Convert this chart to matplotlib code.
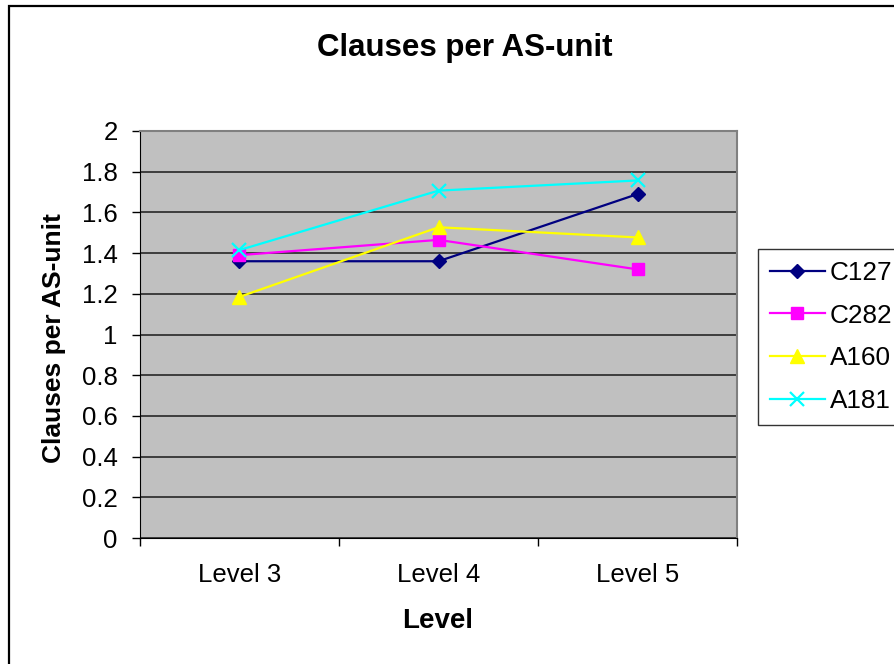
import matplotlib.pyplot as plt
from matplotlib.patches import Rectangle

# datos
niveles = ["Level 3", "Level 4", "Level 5"]
c127 = [1.36, 1.36, 1.69]
c282 = [1.39, 1.465, 1.32]
a160 = [1.185, 1.527, 1.477]
a181 = [1.415, 1.707, 1.757]

plt.rcParams["font.family"] = ["Liberation Sans", "DejaVu Sans"]

fig = plt.figure(figsize=(8.95, 6.64), dpi=100)
fig.patch.set_facecolor("white")

# marco exterior del grafico
fig.patches.append(Rectangle((9 / 895, -0.1), 1.2, 1 - 6 / 664 + 0.1,
                             transform=fig.transFigure, fill=False,
                             edgecolor="black", linewidth=1.6))

ax = fig.add_axes([140 / 895, 1 - 538 / 664, 597 / 895, 407 / 664])
ax.set_facecolor("#C0C0C0")

x = list(range(len(niveles)))
ax.plot(x, c127, color="#000080", marker="D", markersize=7, linewidth=1.6, label="C127")
ax.plot(x, c282, color="#FF00FF", marker="s", markersize=8, linewidth=1.6, label="C282")
ax.plot(x, a160, color="#FFFF00", marker="^", markersize=10, linewidth=1.6, label="A160")
ax.plot(x, a181, color="#00FFFF", marker="x", markersize=10, markeredgewidth=1.6,
        linewidth=1.6, label="A181")

ax.set_ylim(0, 2)
ax.set_yticks([i / 5 for i in range(11)])
ax.set_yticklabels(["0", "0.2", "0.4", "0.6", "0.8", "1", "1.2", "1.4", "1.6", "1.8", "2"])
ax.yaxis.grid(True, color="#333333", linewidth=1.3)
ax.set_axisbelow(True)

ax.set_xlim(-0.5, 2.5)
ax.set_xticks([-0.5, 0.5, 1.5, 2.5])
ax.set_xticklabels([])
ax.set_xticks(x, minor=True)
ax.set_xticklabels(niveles, minor=True)
ax.tick_params(axis="x", which="minor", length=0, pad=18, labelsize=18.5)
ax.tick_params(axis="x", which="major", direction="out", length=6, width=1)
ax.tick_params(axis="y", direction="out", length=6, width=1, pad=10, labelsize=18.5)

for lado in ["top", "right"]:
    ax.spines[lado].set_color("#808080")
    ax.spines[lado].set_linewidth(1.5)
ax.spines["left"].set_color("black")
ax.spines["bottom"].set_color("black")

fig.text(465 / 895, 1 - 48 / 664, "Clauses per AS-unit", ha="center", va="center",
         fontsize=22.5, fontweight="bold")
fig.text(438 / 895, 1 - 621 / 664, "Level", ha="center", va="center",
         fontsize=20, fontweight="bold")
fig.text(54 / 895, 1 - 338 / 664, "Clauses per AS-unit", ha="center", va="center",
         rotation=90, fontsize=19, fontweight="bold")

leg = ax.legend(loc="upper left", bbox_to_anchor=(758 / 895, 1 - 249 / 664),
                bbox_transform=fig.transFigure, borderaxespad=0, fontsize=18.8,
                frameon=True, fancybox=False, handlelength=2.1, handletextpad=0.2,
                labelspacing=0.72, borderpad=0.45)
leg.get_frame().set_edgecolor("black")
leg.get_frame().set_linewidth(1)

fig.savefig("out.png", dpi=100)
